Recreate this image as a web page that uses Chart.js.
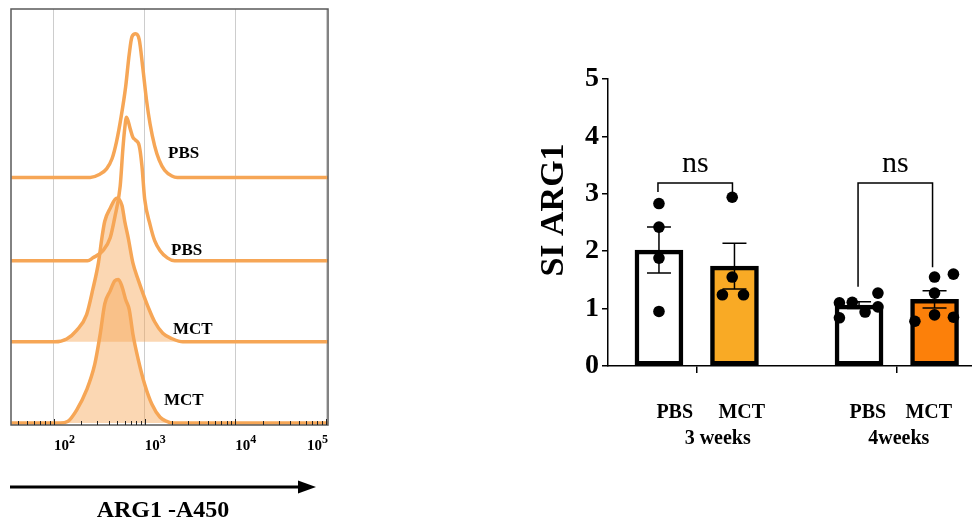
<!DOCTYPE html>
<html>
<head>
<meta charset="utf-8">
<script src="https://cdn.jsdelivr.net/npm/chart.js@4.4.1/dist/chart.umd.min.js"></script>
<style>
html, body { margin: 0; padding: 0; background: #fff; }
#wrap { position: relative; width: 972px; height: 521px; overflow: hidden; }
#flow { position: absolute; left: 0; top: 0; }
#bars { position: absolute; left: 520px; top: 0; }
</style>
</head>
<body>
<div id="wrap">
  <canvas id="flow" width="340" height="521"></canvas>
  <canvas id="bars" width="452" height="521"></canvas>
</div>
<script>
const SERIF = '"Liberation Serif", "Times New Roman", serif';

// ---- left panel: ARG1 histograms (log10 intensity, % of max) ----
const histNames = ['PBS', 'PBS', 'MCT', 'MCT'];
const histFilled = [false, false, true, true];
const pbsAExp = [1.53, 2.40, 2.50, 2.58, 2.64, 2.69, 2.74, 2.79, 2.83, 2.86, 2.90, 2.94, 2.98, 3.02, 3.06, 3.11, 3.16, 3.22, 3.30, 3.36, 5.02];
const pbsAPct = [0, 0, 2, 6, 13, 25, 42, 63, 86, 98, 100, 96, 76, 54, 37, 22, 12, 5, 1, 0, 0];
const pbsBExp = [1.53, 2.37, 2.43, 2.54, 2.62, 2.67, 2.73, 2.76, 2.78, 2.80, 2.84, 2.87, 2.90, 2.94, 2.97, 3.00, 3.06, 3.11, 3.17, 3.25, 3.33, 5.02];
const pbsBPct = [0, 0, 2, 7, 16, 30, 52, 78, 92, 100, 92, 86, 84, 80, 66, 43, 25, 14, 7, 2, 0, 0];
const mctAExp = [1.53, 2.01, 2.14, 2.25, 2.36, 2.43, 2.49, 2.53, 2.56, 2.62, 2.69, 2.75, 2.78, 2.82, 2.87, 2.93, 2.98, 3.04, 3.11, 3.20, 3.31, 3.42, 5.02];
const mctAPct = [0, 0, 2, 8, 19, 37, 55, 73, 84, 93, 100, 95, 84, 72, 55, 43, 34, 24, 14, 6, 2, 0, 0];
const mctBExp = [1.53, 2.07, 2.15, 2.25, 2.36, 2.45, 2.51, 2.56, 2.62, 2.67, 2.71, 2.75, 2.79, 2.83, 2.87, 2.93, 3.00, 3.08, 3.17, 3.25, 3.31, 5.02];
const mctBPct = [0, 0, 1, 9, 23, 41, 62, 83, 92, 99, 100, 95, 86, 79, 62, 44, 27, 13, 4, 1, 0, 0];
const histExp = [pbsAExp, pbsBExp, mctAExp, mctBExp];
const histPct = [pbsAPct, pbsBPct, mctAPct, mctBPct];
const decadeExp = [2, 3, 4, 5];
const flowTitle = 'ARG1 -A450';

// ---- right panel: SI ARG1 bars ----
const groupNames = ['3 weeks', '4weeks'];
const barNames = ['PBS', 'MCT', 'PBS', 'MCT'];
const barMean = [2.02, 1.74, 1.06, 1.16];
const barSem = [0.40, 0.40, 0.06, 0.15];
const ptsPbs3 = [2.83, 2.42, 1.88, 0.95];
const ptsMct3 = [2.94, 1.55, 1.24, 1.24];
const ptsPbs4 = [1.10, 1.11, 0.94, 1.27, 1.03, 0.84];
const ptsMct4 = [1.55, 1.60, 1.27, 0.89, 0.78, 0.85];
const yTickVals = [0, 1, 2, 3, 4, 5];
const sigText = ['ns', 'ns'];
const bracketTop = [3.19, 3.19];
const bracketLeg = [[3.03, 3.03], [1.38, 1.72]];
const yTitle = 'SI ARG1';

// layout / style
const stackOffset = [171, 113, 56.5, 0];
const nameX = [168, 171, 173, 164];
const nameY = [158, 255, 334, 405];
const orange = 'rgb(246,166,86)';
const peach = 'rgba(246,166,86,0.45)';
const barSlot = [1, 2, 3.65, 4.65];
const ptJitter = [[0, 0, 0, 0], [-0.03, -0.03, -0.16, 0.12], [-0.26, -0.09, 0.08, 0.25, 0.25, -0.26], [0, 0.25, 0, 0, -0.26, 0.25]];
const barFill = ['#ffffff', '#f9aa25', '#ffffff', '#fc800a'];

const flowSets = histNames.map((n, i) => ({
    label: n,
    data: histExp[i].map((e, j) => ({ x: Math.pow(10, e), y: stackOffset[i] + histPct[i][j] })),
    borderColor: orange,
    borderWidth: 3.5,
    backgroundColor: peach,
    fill: histFilled[i] ? { value: stackOffset[i] } : false,
    pointRadius: 0,
    cubicInterpolationMode: 'monotone',
    clip: false
}));

const flowDeco = {
    id: 'flowDeco',
    afterDraw(chart) {
        const ctx = chart.ctx, a = chart.chartArea, x = chart.scales.x;
        ctx.save();
        ctx.strokeStyle = '#5a5a5a';
        ctx.lineWidth = 1.5;
        ctx.strokeRect(a.left, a.top, a.right - a.left, a.bottom - a.top);
        ctx.strokeStyle = '#222';
        ctx.lineWidth = 1;
        x.ticks.forEach(t => {
            const px = Math.round(x.getPixelForValue(t.value)) + 0.5;
            ctx.beginPath();
            ctx.moveTo(px, a.bottom);
            ctx.lineTo(px, a.bottom - (t.major ? 6 : 4));
            ctx.stroke();
        });
        ctx.fillStyle = '#000';
        ctx.textAlign = 'left';
        decadeExp.forEach(e => {
            const px = x.getPixelForValue(Math.pow(10, e));
            ctx.font = 'bold 15px ' + SERIF;
            const w1 = ctx.measureText('10').width;
            ctx.font = 'bold 12px ' + SERIF;
            const w2 = ctx.measureText(String(e)).width;
            const left = Math.min(px, a.right - w1 - w2);
            ctx.font = 'bold 15px ' + SERIF;
            ctx.fillText('10', left, 450);
            ctx.font = 'bold 12px ' + SERIF;
            ctx.fillText(String(e), left + w1, 443);
        });
        ctx.font = 'bold 17px ' + SERIF;
        histNames.forEach((n, i) => ctx.fillText(n, nameX[i], nameY[i]));
        // axis arrow
        ctx.strokeStyle = '#000';
        ctx.lineWidth = 3;
        ctx.beginPath();
        ctx.moveTo(10, 487);
        ctx.lineTo(302, 487);
        ctx.stroke();
        ctx.beginPath();
        ctx.moveTo(298, 480.5);
        ctx.lineTo(316, 487);
        ctx.lineTo(298, 493.5);
        ctx.closePath();
        ctx.fill();
        ctx.font = 'bold 24px ' + SERIF;
        ctx.textAlign = 'center';
        ctx.fillText(flowTitle, 163, 517);
        ctx.restore();
    }
};

new Chart(document.getElementById('flow'), {
    type: 'line',
    data: { datasets: flowSets },
    options: {
        responsive: false,
        animation: false,
        layout: { autoPadding: false, padding: { left: 11, right: 12, top: 9, bottom: 96 } },
        plugins: { legend: { display: false }, tooltip: { enabled: false } },
        scales: {
            x: {
                type: 'logarithmic',
                min: 33.6,
                max: 105000,
                afterBuildTicks: s => {
                    const t = [];
                    for (let n = 1; n <= 5; n++) {
                        for (let k = 1; k <= 9; k++) {
                            const v = k * Math.pow(10, n);
                            if (v >= s.min && v <= s.max) t.push({ value: v, major: k === 1 });
                        }
                    }
                    s.ticks = t;
                },
                ticks: { display: false },
                grid: {
                    drawTicks: false,
                    lineWidth: 1,
                    color: c => (c.tick && c.tick.major) ? '#cdcdcd' : 'rgba(0,0,0,0)'
                },
                border: { display: false }
            },
            y: { min: -1.4, max: 288.3, display: false }
        }
    },
    plugins: [flowDeco]
});

// ---- right chart ----
const ptSeries = [ptsPbs3, ptsMct3, ptsPbs4, ptsMct4];
const points = [];
ptSeries.forEach((arr, i) => arr.forEach((v, j) => points.push({ x: barSlot[i] + ptJitter[i][j], y: v })));
const groupCenter = [(barSlot[0] + barSlot[1]) / 2, (barSlot[2] + barSlot[3]) / 2];
const nameOffset = [-22, 45, -29, 32];
const groupOffset = [21, 2];

const barDeco = {
    id: 'barDeco',
    afterDatasetsDraw(chart) {
        const ctx = chart.ctx, x = chart.scales.x, y = chart.scales.y;
        ctx.save();
        ctx.strokeStyle = '#000';
        ctx.fillStyle = '#000';
        ctx.lineWidth = 1.5;
        barSlot.forEach((s, i) => {
            const px = x.getPixelForValue(s);
            const hi = y.getPixelForValue(barMean[i] + barSem[i]);
            const lo = y.getPixelForValue(barMean[i] - barSem[i]);
            ctx.beginPath();
            ctx.moveTo(px, hi); ctx.lineTo(px, lo);
            ctx.moveTo(px - 12, hi); ctx.lineTo(px + 12, hi);
            ctx.moveTo(px - 12, lo); ctx.lineTo(px + 12, lo);
            ctx.stroke();
        });
        [[0, 1], [2, 3]].forEach((pair, g) => {
            const xa = x.getPixelForValue(barSlot[pair[0]]) - 1;
            const xb = x.getPixelForValue(barSlot[pair[1]]) - 2;
            const yt = y.getPixelForValue(bracketTop[g]);
            ctx.beginPath();
            ctx.moveTo(xa, y.getPixelForValue(bracketLeg[g][0]));
            ctx.lineTo(xa, yt);
            ctx.lineTo(xb, yt);
            ctx.lineTo(xb, y.getPixelForValue(bracketLeg[g][1]));
            ctx.stroke();
            ctx.font = '30px ' + SERIF;
            ctx.textAlign = 'center';
            ctx.fillText(sigText[g], (xa + xb) / 2, yt - 11);
        });
        ctx.restore();
    },
    afterDraw(chart) {
        const ctx = chart.ctx, x = chart.scales.x;
        ctx.save();
        ctx.fillStyle = '#000';
        ctx.translate(34, 210);
        ctx.rotate(-Math.PI / 2);
        ctx.font = 'bold 34px ' + SERIF;
        ctx.textAlign = 'center';
        ctx.textBaseline = 'middle';
        ctx.fillText(yTitle, 0, 0);
        ctx.restore();
        ctx.save();
        ctx.fillStyle = '#000';
        ctx.textAlign = 'center';
        ctx.font = 'bold 20px ' + SERIF;
        barNames.forEach((n, i) => {
            const gc = x.getPixelForValue(groupCenter[i < 2 ? 0 : 1]);
            ctx.fillText(n, gc + nameOffset[i], 418);
        });
        groupNames.forEach((n, g) => {
            ctx.fillText(n, x.getPixelForValue(groupCenter[g]) + groupOffset[g], 444);
        });
        ctx.restore();
    }
};

new Chart(document.getElementById('bars'), {
    type: 'bar',
    data: {
        datasets: [
            {
                type: 'scatter',
                data: points,
                pointRadius: 5.8,
                pointBackgroundColor: '#000',
                pointBorderWidth: 0,
                order: 0,
                clip: false
            },
            {
                type: 'bar',
                data: barSlot.map((s, i) => ({ x: s, y: barMean[i] })),
                backgroundColor: barFill,
                borderColor: '#000',
                borderWidth: 4.5,
                borderSkipped: false,
                barThickness: 48,
                order: 1
            }
        ]
    },
    options: {
        responsive: false,
        animation: false,
        layout: { autoPadding: false, padding: { top: 79, bottom: 155, left: 0, right: 0 } },
        plugins: { legend: { display: false }, tooltip: { enabled: false } },
        scales: {
            x: {
                type: 'linear',
                min: 0.325,
                max: 5.146,
                offset: false,
                afterBuildTicks: s => { s.ticks = groupCenter.map(v => ({ value: v })); },
                afterFit: s => { s.height = 0; },
                ticks: { callback: () => '' },
                grid: { offset: false, drawOnChartArea: false, tickLength: 7, color: '#000', lineWidth: 1.5 },
                border: { color: '#000', width: 1.5 }
            },
            y: {
                min: 0,
                max: 5,
                afterBuildTicks: s => { s.ticks = yTickVals.map(v => ({ value: v })); },
                afterFit: s => { s.width = 88; },
                ticks: { color: '#000', padding: 3, font: { family: SERIF, size: 28, weight: 'bold' } },
                grid: { drawOnChartArea: false, tickLength: 6, color: '#000', lineWidth: 1.5 },
                border: { color: '#000', width: 1.5 }
            }
        }
    },
    plugins: [barDeco]
});
</script>
</body>
</html>
